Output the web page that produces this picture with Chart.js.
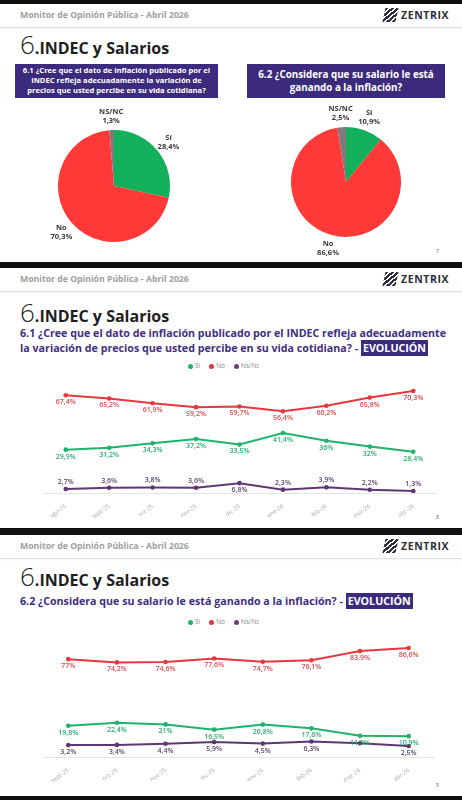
<!DOCTYPE html>
<html>
<head>
<meta charset="utf-8">
<script src="https://cdn.jsdelivr.net/npm/chart.js@4.4.1/dist/chart.umd.min.js"></script>
<style>
  body { margin: 0; width: 462px; height: 800px; background: #111; position: relative; overflow: hidden; font-family: "Open Sans", sans-serif; }
  .slide { position: absolute; left: 0; width: 462px; background: #fff; overflow: hidden; }
  .hdr { position: absolute; left: 20px; top: 6px; font-size: 8.7px; line-height: 10px; font-weight: 700; color: #a0a0a0; }
  .sep { position: absolute; left: 0; width: 462px; top: 23px; height: 1px; background: #e2e2e2; box-shadow: 0 1px 2px rgba(0,0,0,.08); }
  .logo { position: absolute; left: 384px; top: 4px; width: 13px; height: 14px;
          background: repeating-linear-gradient(135deg, #2d2d3a 0 2.5px, #fff 2.5px 4px); transform: skewX(-12deg); }
  .marca { position: absolute; left: 401px; top: 5px; font-size: 10.5px; line-height: 12px; font-weight: 700; color: #2d2d35; letter-spacing: .6px; }
  .tit { position: absolute; left: 20px; white-space: nowrap; color: #1e1e1e; }
  .tit .n { font-size: 26px; font-weight: 300; }
  .tit .t { font-size: 16px; font-weight: 700; }
  .caja { position: absolute; background: #3c2b7c; color: #fff; font-weight: 700; text-align: center; display: flex; align-items: center; justify-content: center; white-space: nowrap; }
  .sub { position: absolute; left: 20px; font-size: 10.7px; line-height: 15px; font-weight: 700; color: #3f2f80; white-space: nowrap; }
  .sub span { background: #3c2b7c; color: #fff; padding: 1px 2px; }
  .ley { position: absolute; left: 179px; font-size: 6.5px; line-height: 8px; color: #8a8a8a; white-space: nowrap; }
  .ley i { display: inline-block; width: 5px; height: 5px; border-radius: 50%; margin: 0 2px 0 9px; vertical-align: -0.5px; }
  .pag { position: absolute; left: 436px; font-size: 5px; color: #555; }
  canvas { position: absolute; }
</style>
</head>
<body>

<div class="slide" style="top:4px;height:258px">
  <div class="hdr">Monitor de Opinión Pública - Abril 2026</div>
  <div class="logo"></div><div class="marca">ZENTRIX</div>
  <div class="sep"></div>
  <div class="tit" style="top:22px"><span class="n">6</span><span class="t">.INDEC y Salarios</span></div>
  <div class="caja" style="left:15px;top:60px;width:203px;height:34px;font-size:7.6px;line-height:9.8px">6.1 ¿Cree que el dato de inflación publicado por el<br>INDEC refleja adecuadamente la variación de<br>precios que usted percibe en su vida cotidiana?</div>
  <div class="caja" style="left:247px;top:60px;width:198px;height:34px;font-size:9.8px;line-height:13px">6.2 ¿Considera que su salario le está<br>ganando a la inflación?</div>
  <div class="pag" style="top:244px">7</div>
</div>

<div class="slide" style="top:268px;height:260px">
  <div class="hdr">Monitor de Opinión Pública - Abril 2026</div>
  <div class="logo"></div><div class="marca">ZENTRIX</div>
  <div class="sep"></div>
  <div class="tit" style="top:26px"><span class="n">6</span><span class="t">.INDEC y Salarios</span></div>
  <div class="sub" style="top:58px">6.1 ¿Cree que el dato de inflación publicado por el INDEC refleja adecuadamente<br>la variación de precios que usted percibe en su vida cotidiana? - <span>EVOLUCIÓN</span></div>
  <div class="ley" style="top:94px"><i style="background:#1db36b"></i>Sí<i style="background:#e8363f"></i>No<i style="background:#6a3f7c"></i>Ns/Nc</div>
  <div class="pag" style="top:246px">8</div>
</div>

<div class="slide" style="top:535px;height:261px">
  <div class="hdr">Monitor de Opinión Pública - Abril 2026</div>
  <div class="logo"></div><div class="marca">ZENTRIX</div>
  <div class="sep"></div>
  <div class="tit" style="top:23px"><span class="n">6</span><span class="t">.INDEC y Salarios</span></div>
  <div class="sub" style="top:59px">6.2 ¿Considera que su salario le está ganando a la inflación? - <span>EVOLUCIÓN</span></div>
  <div class="ley" style="top:83px"><i style="background:#1db36b"></i>Sí<i style="background:#e8363f"></i>No<i style="background:#6a3f7c"></i>Ns/Nc</div>
  <div class="pag" style="top:247px">9</div>
</div>

<canvas id="pie1" width="200" height="156" style="left:14px;top:108px"></canvas>
<canvas id="pie2" width="200" height="156" style="left:246px;top:104px"></canvas>
<canvas id="evo1" width="462" height="152" style="left:0;top:372px"></canvas>
<canvas id="evo2" width="462" height="160" style="left:0;top:630px"></canvas>

<script>
// datos de las tortas (orden: Sí, No, NS/NC)
const pieLabels = ['Sí', 'No', 'NS/NC'];
const pie61 = [28.4, 70.3, 1.3];
const pie62 = [10.9, 86.6, 2.5];

// evolución 6.1
const meses61 = ['ago-25', 'sept-25', 'oct-25', 'nov-25', 'dic-25', 'ene-26', 'feb-26', 'mar-26', 'abr-26'];
const si61 = [29.9, 31.2, 34.3, 37.2, 33.5, 41.4, 36, 32, 28.4];
const no61 = [67.4, 65.2, 61.9, 59.2, 59.7, 56.4, 60.2, 65.8, 70.3];
const ns61 = [2.7, 3.6, 3.8, 3.6, 6.8, 2.3, 3.9, 2.2, 1.3];

// evolución 6.2
const meses62 = ['sept-25', 'oct-25', 'nov-25', 'dic-25', 'ene-26', 'feb-26', 'mar-26', 'abr-26'];
const si62 = [19.8, 22.4, 21, 16.5, 20.8, 17.6, 11.3, 10.9];
const no62 = [77, 74.2, 74.6, 77.6, 74.7, 76.1, 83.9, 86.6];
const ns62 = [3.2, 3.4, 4.4, 5.9, 4.5, 6.3, 4.8, 2.5];

const VERDE = '#1db36b', ROJO = '#e8363f', VIOLETA = '#5e3673';

Chart.defaults.font.family = '"Open Sans", sans-serif';
Chart.defaults.animation = false;

function pct(v) {
    return String(v).replace('.', ',') + '%';
}

// etiquetas afuera de la torta
const etiquetasTorta = {
    id: 'etiquetasTorta',
    afterDatasetsDraw(chart) {
        const ctx = chart.ctx;
        const meta = chart.getDatasetMeta(0);
        const valores = chart.data.datasets[0].data;
        ctx.save();
        ctx.font = 'bold 7.5px "Open Sans"';
        ctx.fillStyle = '#3a3a3a';
        ctx.textAlign = 'center';
        ctx.textBaseline = 'middle';
        meta.data.forEach((arc, i) => {
            const mid = (arc.startAngle + arc.endAngle) / 2;
            const d = arc.outerRadius + 14;
            const x = arc.x + Math.cos(mid) * d;
            const y = arc.y + Math.sin(mid) * d;
            ctx.fillText(chart.data.labels[i], x, y - 4.5);
            ctx.fillText(pct(valores[i]), x, y + 4.5);
        });
        ctx.restore();
    }
};

function torta(id, valores, pad) {
    new Chart(document.getElementById(id), {
        type: 'pie',
        data: {
            labels: pieLabels,
            datasets: [{
                data: valores,
                backgroundColor: ['#12b05a', '#ff3838', '#7b7b7b'],
                borderWidth: 0
            }]
        },
        options: {
            responsive: false,
            layout: { padding: pad },
            plugins: { legend: { display: false }, tooltip: { enabled: false } }
        },
        plugins: [etiquetasTorta]
    });
}

torta('pie1', pie61, { left: 44, right: 44, top: 22, bottom: 22 });
torta('pie2', pie62, { left: 45, right: 45, top: 23, bottom: 23 });

// etiquetas de valores en las líneas
const etiquetasLinea = {
    id: 'etiquetasLinea',
    afterDatasetsDraw(chart) {
        const ctx = chart.ctx;
        ctx.save();
        ctx.font = '600 7px "Open Sans"';
        ctx.textAlign = 'center';
        ctx.textBaseline = 'middle';
        chart.data.datasets.forEach((ds, di) => {
            const meta = chart.getDatasetMeta(di);
            ctx.fillStyle = ds.colorEtiqueta;
            meta.data.forEach((pt, i) => {
                if (ds.ocultar && ds.ocultar.includes(i)) return;
                const lado = typeof ds.lado === 'function' ? ds.lado(i) : ds.lado;
                ctx.fillText(pct(ds.data[i]), pt.x, pt.y + lado * 7);
            });
        });
        ctx.restore();
    }
};

function serie(label, data, color, colorEtiqueta, lado, ocultar) {
    return {
        label: label,
        data: data,
        borderColor: color,
        backgroundColor: color,
        borderWidth: 2,
        pointRadius: 2.3,
        pointBackgroundColor: color,
        pointBorderWidth: 0,
        tension: 0,
        colorEtiqueta: colorEtiqueta,
        lado: lado,
        ocultar: ocultar
    };
}

function evolucion(id, meses, series, yMin, yMax, pad, altoX) {
    new Chart(document.getElementById(id), {
        type: 'line',
        data: { labels: meses, datasets: series },
        options: {
            responsive: false,
            layout: { padding: pad },
            plugins: { legend: { display: false }, tooltip: { enabled: false } },
            scales: {
                x: {
                    offset: true,
                    grid: { display: false },
                    border: { display: true, color: '#e4e4e4', width: 1 },
                    ticks: { color: '#a5a5a5', font: { size: 5.8 }, minRotation: 35, maxRotation: 35, padding: 2 },
                    afterFit(scale) { scale.height = altoX; }
                },
                y: { display: false, min: yMin, max: yMax }
            }
        },
        plugins: [etiquetasLinea]
    });
}

evolucion('evo1', meses61, [
    serie('Sí', si61, VERDE, '#27ae6e', 1),
    serie('No', no61, ROJO, '#df4750', 1),
    serie('Ns/Nc', ns61, VIOLETA, '#5b4868', i => (i === 4 ? 1 : -1))
], 0, 80, { left: 44, right: 27, top: 5, bottom: 0 }, 31);

evolucion('evo2', meses62, [
    serie('Sí', si62, VERDE, '#27ae6e', 1),
    serie('No', no62, ROJO, '#df4750', 1),
    serie('Ns/Nc', ns62, VIOLETA, '#5b4868', 1, [6])
], -7, 90, { left: 44, right: 29, top: 14, bottom: 0 }, 33);
</script>
</body>
</html>
